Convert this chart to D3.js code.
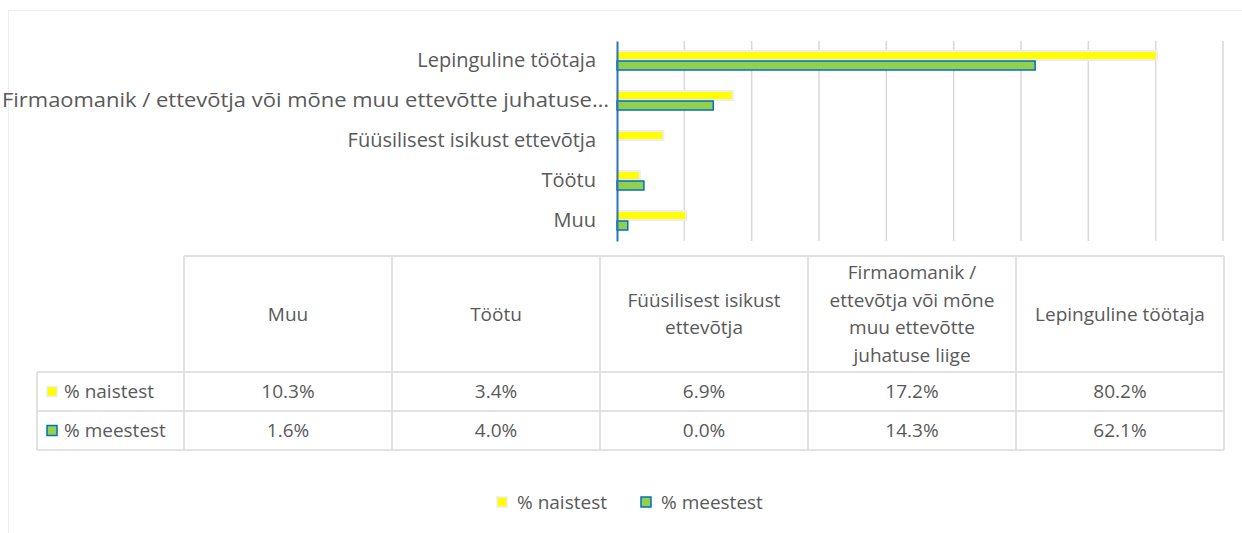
<!DOCTYPE html>
<html lang="en">
<head>
  <meta charset="UTF-8" />
  <title>d3</title>
  <style>
    body { margin: 0; background: #fff; }
    #container { width: 1242px; height: 533px; }
    text { font-family: "Open Sans", sans-serif; fill: #595959; }
  </style>
</head>
<body>
  <div id="container"></div>
  <script src="https://cdn.jsdelivr.net/npm/d3@7"></script>
  <script>
    // table order (bottom to top in the chart)
    const categories = ["Muu", "Töötu", "Füüsilisest isikust ettevõtja",
      "Firmaomanik / ettevõtja või mõne muu ettevõtte juhatuse liige", "Lepinguline töötaja"];
    const axisLabels = ["Muu", "Töötu", "Füüsilisest isikust ettevõtja",
      "Firmaomanik / ettevõtja või mõne muu ettevõtte juhatuse…", "Lepinguline töötaja"];
    const headerLines = [["Muu"], ["Töötu"], ["Füüsilisest isikust", "ettevõtja"],
      ["Firmaomanik /", "ettevõtja või mõne", "muu ettevõtte", "juhatuse liige"], ["Lepinguline töötaja"]];
    const seriesNames = ["% naistest", "% meestest"];
    const naistest = [10.3, 3.4, 6.9, 17.2, 80.2];
    const meestest = [1.6, 4.0, 0.0, 14.3, 62.1];
    const xTicks = [0, 10, 20, 30, 40, 50, 60, 70, 80, 90];

    const seriesValues = [naistest, meestest];
    const fills = ["#FFFF00", "#92D050"];
    const strokes = ["#EDEDED", "#0070C0"];
    const fs = 19;

    const W = 1242, H = 533;
    const svg = d3.select("#container").append("svg").attr("width", W).attr("height", H);

    // outer frame
    svg.append("rect").attr("x", 8.5).attr("y", 10.5).attr("width", W).attr("height", H)
      .attr("fill", "none").attr("stroke", "#eeeeee");

    const plot = { left: 617, right: 1223, top: 41, bottom: 241 };

    const x = d3.scaleLinear().domain([0, 90]).range([plot.left, plot.right]);
    const y = d3.scaleBand().domain(categories.slice().reverse())
      .range([plot.top, plot.bottom]).paddingInner(0.5).paddingOuter(0.25);
    const ys = d3.scaleBand().domain(seriesNames).range([0, y.bandwidth()]);

    // gridlines
    svg.append("g").selectAll("line").data(xTicks.slice(1)).enter().append("line")
      .attr("x1", d => x(d)).attr("x2", d => x(d))
      .attr("y1", plot.top).attr("y2", plot.bottom)
      .attr("stroke", "#d9d9d9").attr("stroke-width", 1.5);

    // bars
    seriesNames.forEach((s, si) => {
      svg.append("g").selectAll("rect").data(categories).enter().append("rect")
        .attr("x", x(0))
        .attr("y", c => y(c) + ys(s))
        .attr("width", (c, i) => x(seriesValues[si][i]) - x(0))
        .attr("height", ys.bandwidth() - 1)
        .attr("fill", fills[si])
        .attr("stroke", (c, i) => seriesValues[si][i] > 0 ? strokes[si] : "none")
        .attr("stroke-width", si === 1 ? 1.5 : 2);
    });

    // category axis
    const yAxis = svg.append("g").attr("transform", `translate(${plot.left},0)`)
      .call(d3.axisLeft(y).tickSize(0).tickPadding(21).tickFormat(d => axisLabels[categories.indexOf(d)]));
    yAxis.select(".domain").attr("stroke", "#2E75B6").attr("stroke-width", 2);
    yAxis.selectAll("text").attr("font-size", fs + 1).attr("fill", "#595959")
      .attr("font-family", "Open Sans, sans-serif");
    // the truncated label spans almost to the left edge
    yAxis.selectAll("text").filter(d => d.startsWith("Firmaomanik"))
      .attr("text-anchor", "start").attr("x", 2 - plot.left)
      .attr("textLength", 607).attr("lengthAdjust", "spacingAndGlyphs");

    // data table
    const tbl = { left: 37, firstCol: 184, right: 1224, top: 256, headBottom: 372, rowH: 39 };
    const colX = d3.scaleBand().domain(categories).range([tbl.firstCol, tbl.right]);
    const t = svg.append("g");
    const gridColor = "#d9d9d9";
    const rowsBottom = tbl.headBottom + tbl.rowH * 2;

    // horizontal lines
    t.append("line").attr("x1", tbl.firstCol).attr("x2", tbl.right).attr("y1", tbl.top).attr("y2", tbl.top)
      .attr("stroke", gridColor).attr("stroke-width", 1.5);
    [0, 1, 2].forEach(r => {
      const yy = tbl.headBottom + r * tbl.rowH;
      t.append("line").attr("x1", tbl.left).attr("x2", tbl.right).attr("y1", yy).attr("y2", yy)
        .attr("stroke", gridColor).attr("stroke-width", 1.5);
    });
    // vertical lines
    t.append("line").attr("x1", tbl.left).attr("x2", tbl.left).attr("y1", tbl.headBottom).attr("y2", rowsBottom)
      .attr("stroke", gridColor).attr("stroke-width", 1.5);
    t.selectAll(".vl").data(categories.concat(["end"])).enter().append("line")
      .attr("x1", d => d === "end" ? tbl.right : colX(d))
      .attr("x2", d => d === "end" ? tbl.right : colX(d))
      .attr("y1", tbl.top).attr("y2", rowsBottom)
      .attr("stroke", gridColor).attr("stroke-width", 1.5);

    // header labels
    const headMid = (tbl.top + tbl.headBottom) / 2;
    const lineH = 27.5;
    categories.forEach((c, i) => {
      const lines = headerLines[i];
      const tx = t.append("text").attr("text-anchor", "middle").attr("font-size", fs);
      lines.forEach((ln, j) => {
        tx.append("tspan").attr("x", colX(c) + colX.bandwidth() / 2)
          .attr("y", headMid + (j - (lines.length - 1) / 2) * lineH)
          .attr("dy", "0.35em").text(ln);
      });
    });

    // data rows
    seriesNames.forEach((s, si) => {
      const cy = tbl.headBottom + si * tbl.rowH + tbl.rowH / 2;
      t.append("rect").attr("x", 47).attr("y", cy - 5).attr("width", 10).attr("height", 10)
        .attr("fill", fills[si]).attr("stroke", strokes[si]).attr("stroke-width", 1.5);
      t.append("text").attr("x", 64).attr("y", cy).attr("dy", "0.35em").attr("font-size", fs).text(s);
      t.selectAll(".v" + si).data(categories).enter().append("text")
        .attr("x", c => colX(c) + colX.bandwidth() / 2)
        .attr("y", cy).attr("dy", "0.35em").attr("text-anchor", "middle").attr("font-size", fs)
        .text((c, i) => seriesValues[si][i].toFixed(1) + "%");
    });

    // legend
    const legend = svg.append("g").attr("transform", "translate(497,502)");
    const legX = [0, 144];
    seriesNames.forEach((s, si) => {
      legend.append("rect").attr("x", legX[si]).attr("y", -5).attr("width", 10).attr("height", 10)
        .attr("fill", fills[si]).attr("stroke", strokes[si]).attr("stroke-width", 1.5);
      legend.append("text").attr("x", legX[si] + 20).attr("y", 0).attr("dy", "0.35em")
        .attr("font-size", fs).text(s);
    });
  </script>
</body>
</html>
